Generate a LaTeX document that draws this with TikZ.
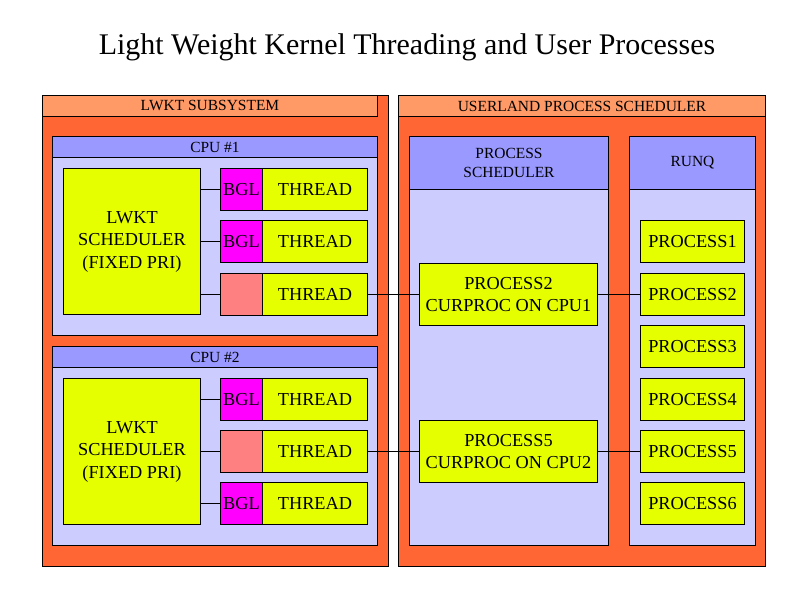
\documentclass[tikz,border=0pt]{standalone}
\usepackage{fontspec}
\setmainfont{Liberation Serif}
\usepackage{xcolor}
\usepackage{tikz}
\usetikzlibrary{positioning}

\definecolor{lwktorange}{HTML}{FF6633}
\definecolor{barorange}{HTML}{FF9966}
\definecolor{barblue}{HTML}{9999FF}
\definecolor{paneblue}{HTML}{CCCCFF}
\definecolor{boxyellow}{HTML}{E6FF00}
\definecolor{bglpink}{HTML}{FF00FF}
\definecolor{idlepink}{HTML}{FF8080}

\newlength{\px}
\setlength{\px}{0.025cm}

\tikzstyle{cell} = [draw=black, line width=0.7pt, inner sep=0pt, anchor=north west, align=center, font=\fontsize{13}{16}\selectfont]
\tikzstyle{bar} = [cell, font=\fontsize{11}{14}\selectfont]
\tikzstyle{link} = [line width=0.6pt]
\tikzset{wh/.style 2 args={minimum width=#1*\px, minimum height=#2*\px}}

\begin{document}
\begin{tikzpicture}[x=\px, y=-\px]
    \useasboundingbox (0,0) rectangle (800,597);
    \fill[white] (0,0) rectangle (800,597);

    % title
    \node[font=\fontsize{21.3}{24}\selectfont] (title) at (407,47) {Light Weight Kernel Threading and User Processes};

    % LWKT subsystem (left)
    \node[cell, fill=lwktorange, wh={346}{471}] (lwkt) at (42,95) {};
    \node[bar, fill=barorange, wh={335}{21}] (lwkthead) at (42,95) {LWKT SUBSYSTEM};

    % userland process scheduler (right)
    \node[cell, fill=lwktorange, wh={367}{471}] (user) at (398,95) {};
    \node[bar, fill=barorange, wh={367}{21}] (userhead) at (398,95) {USERLAND PROCESS SCHEDULER};

    % one block per cpu
    \foreach \c/\y in {1/136, 2/346} {
        \node[cell, fill=paneblue, wh={325}{199}] (cpu\c) at (52,\y) {};
        \node[bar, fill=barblue, wh={325}{21}] (cpu\c head) at (52,\y) {CPU \#\c};
        \node[cell, fill=boxyellow, wh={137}{146}] (sched\c) at (63,\y+32) {LWKT\\SCHEDULER\\(FIXED PRI)};
    }

    % threads: cpu / row / top offset / bgl colour / bgl text
    \foreach \c/\r/\y/\col/\txt in {1/1/168/bglpink/BGL, 1/2/220/bglpink/BGL, 1/3/273/idlepink/,
                                   2/1/378/bglpink/BGL, 2/2/430/idlepink/, 2/3/482/bglpink/BGL} {
        \node[cell, fill=\col, wh={42}{42}] (b\c\r) at (220,\y) {\txt};
        \node[cell, fill=boxyellow, wh={105}{42}] (t\c\r) at (262,\y) {THREAD};
        \draw[link] (sched\c.east |- b\c\r.west) -- (b\c\r.west);
    }

    % process scheduler column
    \node[cell, fill=paneblue, wh={199}{409}] (ps) at (409,136) {};
    \node[bar, fill=barblue, wh={199}{53}] (pshead) at (409,136) {PROCESS\\SCHEDULER};
    \node[cell, fill=boxyellow, wh={178}{62}] (cur2) at (419,263) {PROCESS2\\CURPROC ON CPU1};
    \node[cell, fill=boxyellow, wh={178}{62}] (cur5) at (419,420) {PROCESS5\\CURPROC ON CPU2};

    % run queue
    \node[cell, fill=paneblue, wh={126}{409}] (runq) at (629,136) {};
    \node[bar, fill=barblue, wh={126}{53}] (runqhead) at (629,136) {RUNQ};
    \foreach \p/\y in {1/220, 2/273, 3/325, 4/378, 5/430, 6/482} {
        \node[cell, fill=boxyellow, wh={104}{42}] (p\p) at (640,\y) {PROCESS\p};
    }

    % current process links
    \draw[link] (t13.east) -- (t13.east -| cur2.west);
    \draw[link] (cur2.east |- p2.west) -- (p2.west);
    \draw[link] (t22.east) -- (t22.east -| cur5.west);
    \draw[link] (cur5.east |- p5.west) -- (p5.west);
\end{tikzpicture}
\end{document}
